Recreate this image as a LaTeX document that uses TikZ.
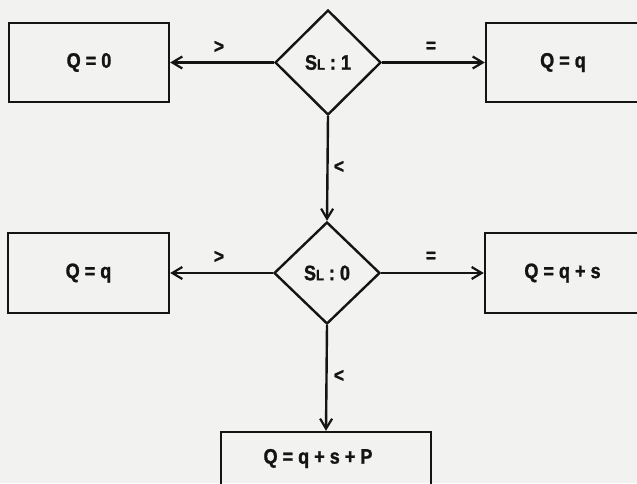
\documentclass[tikz,border=0pt]{standalone}
\usepackage{fontspec}
\setmainfont{Liberation Sans}[FakeStretch=0.86, BoldFeatures={FakeBold=1.2}]
\usetikzlibrary{shapes.geometric,arrows.meta}
\definecolor{paper}{rgb}{0.95,0.95,0.945}
\definecolor{ink}{rgb}{0.08,0.08,0.08}
\newcommand{\SLsub}{S{\fontsize{15}{15}\selectfont L}}
\tikzset{
  box/.style={draw=ink, line width=2.4pt, rectangle, inner sep=0pt, text=ink,
    font=\fontsize{21}{23}\selectfont\bfseries},
  decision/.style={draw=ink, line width=2.4pt, diamond, inner sep=0pt, text=ink,
    font=\fontsize{21}{23}\selectfont\bfseries},
  conn/.style={draw=ink, line width=2.4pt, -{Straight Barb[length=10pt,width=12pt,line width=2.2pt]}},
  lbl/.style={text=ink, inner sep=0pt, font=\fontsize{20}{20}\selectfont\bfseries}
}
\begin{document}
\begin{tikzpicture}[x=1pt,y=-1pt]
\fill[paper] (0,0) rectangle (637,483);
\useasboundingbox (0,0) rectangle (637,483);
% top row
\node[box, minimum width=160pt, minimum height=79pt] (q0) at (89,62.5) {Q = 0};
\node[decision, minimum width=106pt, minimum height=105pt] (d1) at (328,62.5) {\SLsub{} : 1};
\node[box, minimum width=154pt, minimum height=79pt] (qq) at (563,62.5) {Q = q};
% middle row
\node[box, minimum width=161pt, minimum height=80pt] (q2) at (88.5,273) {Q = q};
\node[decision, minimum width=106pt, minimum height=102pt] (d2) at (327,273) {\SLsub{} : 0};
\node[box, minimum width=155pt, minimum height=80pt] (qs) at (562.5,273) {Q = q + s};
% bottom
\node[box, minimum width=210pt, minimum height=53pt] (qsp) at (326,458.5) {\hspace*{-16pt}Q = q + s + P};
% connectors
\draw[conn] (d1.west) -- (q0.east);
\draw[conn] (d1.east) -- (qq.west);
\draw[conn] (d1.south) -- (d2.north);
\draw[conn] (d2.west) -- (q2.east);
\draw[conn] (d2.east) -- (qs.west);
\draw[conn] (d2.south) -- (qsp.north);
% labels
\node[lbl] (l1) at (219,47) {>};
\node[lbl] (l2) at (431,47) {=};
\node[lbl] (l3) at (339,167) {<};
\node[lbl] (l4) at (219,257) {>};
\node[lbl] (l5) at (431,257) {=};
\node[lbl] (l6) at (339,376) {<};
\end{tikzpicture}
\end{document}
